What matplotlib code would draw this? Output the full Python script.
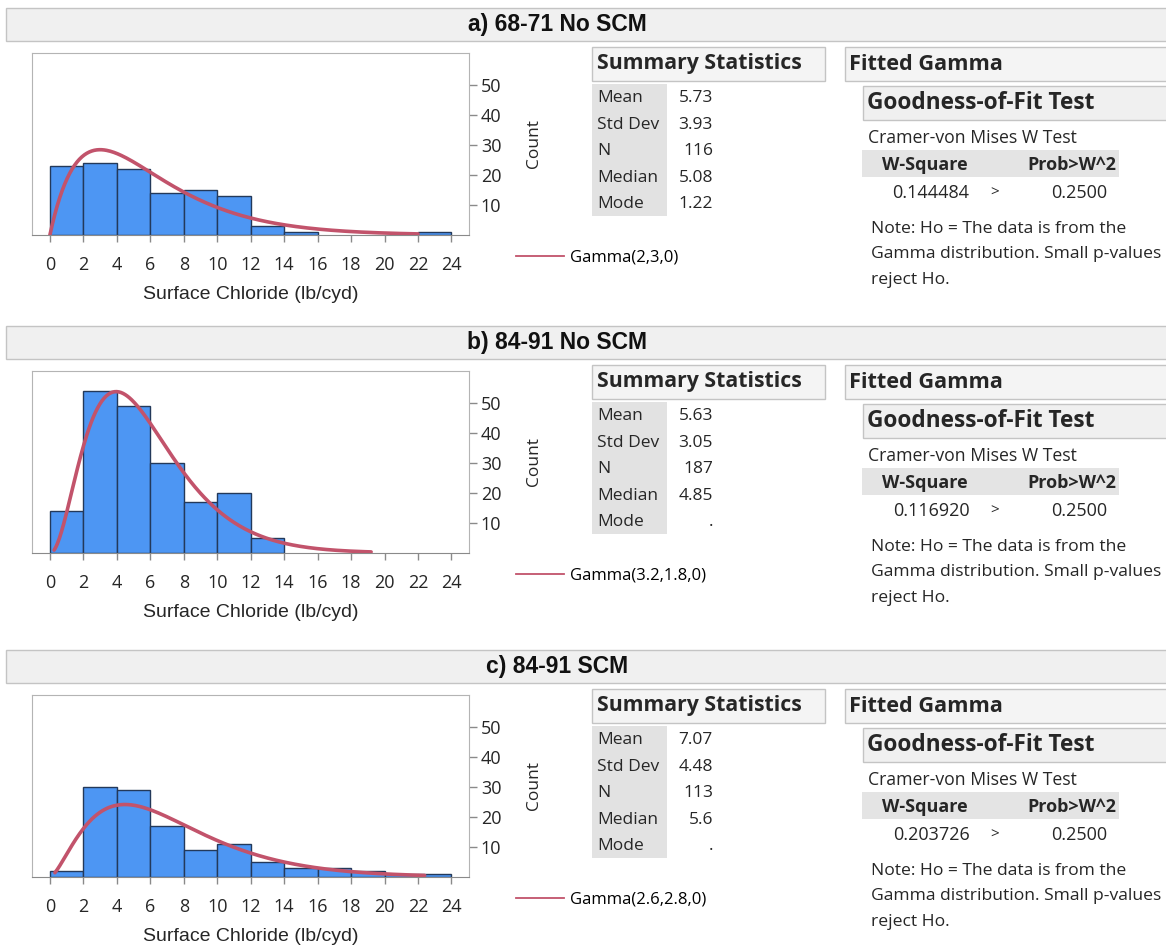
import math
import numpy as np
import matplotlib.pyplot as plt
from matplotlib.patches import Rectangle
from matplotlib.lines import Line2D

# Data
titles = ['a) 68-71 No SCM', 'b) 84-91 No SCM', 'c) 84-91 SCM']
bin_edges = list(range(0, 26, 2))
counts_a = [23, 24, 22, 14, 15, 13, 3, 1, 0, 0, 0, 1]
counts_b = [14, 54, 49, 30, 17, 20, 5, 0, 0, 0, 0, 0]
counts_c = [2, 30, 29, 17, 9, 11, 5, 3, 3, 2, 1, 1]

gamma_shape = [2, 3.2, 2.6]
gamma_scale = [3, 1.8, 2.8]
gamma_labels = ['Gamma(2,3,0)', 'Gamma(3.2,1.8,0)', 'Gamma(2.6,2.8,0)']
curve_range = [(0.0, 22.0), (0.25, 19.2), (0.3, 22.4)]

stat_names = ['Mean', 'Std Dev', 'N', 'Median', 'Mode']
means = ['5.73', '5.63', '7.07']
std_devs = ['3.93', '3.05', '4.48']
ns = [116, 187, 113]
medians = ['5.08', '4.85', '5.6']
modes = ['1.22', '.', '.']

w_square = ['0.144484', '0.116920', '0.203726']
prob_w2 = ['0.2500', '0.2500', '0.2500']

x_ticks = list(range(0, 26, 2))
y_ticks = [10, 20, 30, 40, 50]

W, H = 1166, 949
panel_offsets = [0, 318, 642]

BAR = '#4d96f3'
BAR_EDGE = '#23395a'
CURVE = '#c2536b'
AXIS_GREY = '#8a8a8a'
TEXT = '#262626'
UI_FONT = 'Open Sans'
AX_FONT = 'Liberation Sans'


def fx(px):
    return px / W


def fy(py):
    return 1 - py / H


def box(fig, x0, y0, x1, y1, fc, ec='none', lw=1.0):
    fig.patches.append(Rectangle((fx(x0), fy(y1)), (x1 - x0) / W, (y1 - y0) / H,
                                 transform=fig.transFigure, fc=fc, ec=ec, lw=lw))


def gamma_pdf(x, k, theta):
    return x ** (k - 1) * np.exp(-x / theta) / (math.gamma(k) * theta ** k)


fig = plt.figure(figsize=(W / 100, H / 100), dpi=100)
fig.patch.set_facecolor('white')

all_counts = [counts_a, counts_b, counts_c]

for i, off in enumerate(panel_offsets):
    # Title bar
    box(fig, 6, off + 8, 1170, off + 41, '#f0f0f0', '#c4c4c4')
    fig.text(fx(557), fy(off + 25), titles[i], ha='center', va='center',
             family=AX_FONT, weight='bold', fontsize=16.5, color='#111111')

    # Histogram
    ax = fig.add_axes([fx(32), fy(off + 235), (469 - 32) / W, (235 - 53) / H])
    counts = np.array(all_counts[i])
    lefts = np.array(bin_edges[:-1])
    keep = counts > 0
    ax.bar(lefts[keep], counts[keep], width=2, align='edge', color=BAR,
           edgecolor=BAR_EDGE, linewidth=1.0, zorder=2)
    lo, hi = curve_range[i]
    xs = np.linspace(lo, hi, 300)
    ys = ns[i] * 2 * gamma_pdf(xs, gamma_shape[i], gamma_scale[i])
    ax.plot(xs, ys, color=CURVE, lw=2.6, zorder=3, solid_capstyle='round')

    ax.set_xlim(-1.07, 25.05)
    ax.set_ylim(0, 60.7)
    ax.set_xticks(x_ticks)
    ax.set_yticks(y_ticks)
    ax.yaxis.tick_right()
    ax.yaxis.set_label_position('right')
    for s in ['top', 'left', 'right']:
        ax.spines[s].set_color('#b4b4b4')
    ax.spines['bottom'].set_color(AXIS_GREY)
    ax.tick_params(axis='x', direction='out', length=5, width=1, color=AXIS_GREY,
                   pad=10, labelsize=13, labelcolor=TEXT)
    ax.tick_params(axis='y', direction='out', length=5.5, width=1, color=AXIS_GREY,
                   pad=3, labelsize=13, labelcolor=TEXT)
    for lab in ax.get_xticklabels() + ax.get_yticklabels():
        lab.set_family(UI_FONT)
    ax.set_xlabel('Surface Chloride (lb/cyd)', family=AX_FONT, fontsize=14,
                  color=TEXT, labelpad=9)
    ax.set_ylabel('Count', family=UI_FONT, fontsize=12.5, color=TEXT, labelpad=18)

    # Legend for the fitted curve
    proxy = Line2D([], [], color=CURVE, lw=1.3)
    ax.legend([proxy], [gamma_labels[i]], loc='center left',
              bbox_to_anchor=(fx(516), fy(off + 258)), bbox_transform=fig.transFigure,
              frameon=False, handlelength=2.9, handletextpad=0.35, borderpad=0,
              borderaxespad=0, prop={'family': UI_FONT, 'size': 12})

    # Summary Statistics
    box(fig, 592, off + 47, 825, off + 81, '#f4f4f4', '#c4c4c4')
    fig.text(fx(597), fy(off + 64), 'Summary Statistics', ha='left', va='center',
             family=UI_FONT, weight='bold', fontsize=15.3, color=TEXT)
    box(fig, 592, off + 84, 667, off + 216, '#e2e2e2')
    values = [means[i], std_devs[i], str(ns[i]), medians[i], modes[i]]
    for j, (name, val) in enumerate(zip(stat_names, values)):
        yy = off + 98 + j * 26.6
        fig.text(fx(597), fy(yy), name, ha='left', va='center',
                 family=UI_FONT, fontsize=12.5, color=TEXT)
        fig.text(fx(713), fy(yy), val, ha='right', va='center',
                 family=UI_FONT, fontsize=12.5, color=TEXT)

    # Fitted Gamma
    box(fig, 845, off + 47, 1170, off + 81, '#f4f4f4', '#c4c4c4')
    fig.text(fx(849), fy(off + 64), 'Fitted Gamma', ha='left', va='center',
             family=UI_FONT, weight='bold', fontsize=15.6, color=TEXT)
    box(fig, 863, off + 86, 1170, off + 120, '#f0f0f0', '#c4c4c4')
    fig.text(fx(867), fy(off + 103), 'Goodness-of-Fit Test', ha='left', va='center',
             family=UI_FONT, weight='bold', fontsize=16.3, color=TEXT)
    fig.text(fx(868), fy(off + 138), 'Cramer-von Mises W Test', ha='left', va='center',
             family=UI_FONT, fontsize=12.7, color=TEXT)
    box(fig, 862, off + 150, 1119, off + 177, '#e4e4e4')
    fig.text(fx(925), fy(off + 165), 'W-Square', ha='center', va='center',
             family=UI_FONT, weight='bold', fontsize=13, color=TEXT)
    fig.text(fx(1116), fy(off + 165), 'Prob>W^2', ha='right', va='center',
             family=UI_FONT, weight='bold', fontsize=13, color=TEXT)
    fig.text(fx(931), fy(off + 193), w_square[i], ha='center', va='center',
             family=UI_FONT, fontsize=13, color=TEXT)
    fig.text(fx(995), fy(off + 193), '>', ha='center', va='center',
             family=UI_FONT, fontsize=11, color=TEXT)
    fig.text(fx(1107), fy(off + 193), prob_w2[i], ha='right', va='center',
             family=UI_FONT, fontsize=13, color=TEXT)
    note = ['Note: Ho = The data is from the',
            'Gamma distribution. Small p-values',
            'reject Ho.']
    for j, line in enumerate(note):
        fig.text(fx(871), fy(off + 229 + j * 25.5), line, ha='left', va='center',
                 family=UI_FONT, fontsize=12.6, color=TEXT)

fig.savefig('out.png', dpi=100)
